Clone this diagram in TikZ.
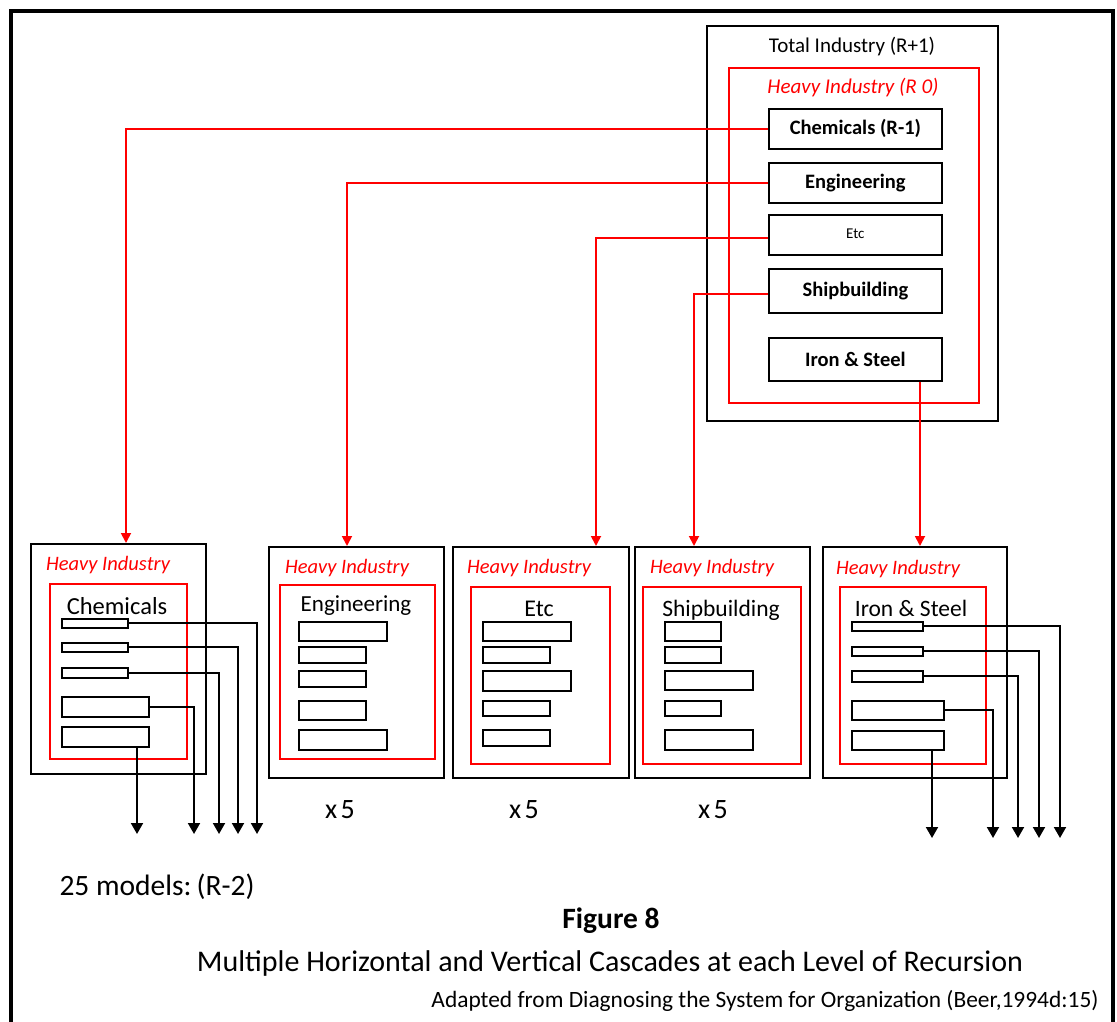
\documentclass[tikz,border=0pt]{standalone}
\usepackage{fontspec}
\setmainfont{Carlito}
\usetikzlibrary{arrows.meta}
\begin{document}
\begin{tikzpicture}[x=1pt,y=-1pt,
  box/.style={draw=black, line width=1.8pt, inner sep=0pt, anchor=north west},
  rbox/.style={draw=red, line width=1.8pt, inner sep=0pt, anchor=north west},
  fz/.style={font=\fontsize{#1}{#1}\selectfont},
  bz/.style={font=\fontsize{#1}{#1}\selectfont\bfseries},
  iz/.style={font=\fontsize{#1}{#1}\selectfont\itshape, text=red},
  redcon/.style={draw=red, line width=1.8pt, -{Triangle[width=10pt,length=10pt]}},
  blkcon/.style={draw=black, line width=1.9pt, -{Triangle[width=12pt,length=11pt]}}
]
\useasboundingbox (0,0) rectangle (1117,1022);
% outer frame (bottom edge lies outside the picture)
\draw[line width=3.5pt] (11,1040) -- (11,11) -- (1113,11) -- (1113,1040);

% ---------- top: Total Industry ----------
\node[box, minimum width=291pt, minimum height=395pt] (total) at (706,25) {};
\node[fz=21] (totallbl) at (852,47) {Total Industry (R+1)};
\node[rbox, minimum width=250pt, minimum height=335pt] (heavy) at (728,67) {};
\node[iz=21] (heavylbl) at (853,88) {Heavy Industry (R 0)};
\node[box, minimum width=173pt, minimum height=40pt, bz=20.5] (chem) at (768,108) {Chemicals (R-1)};
\node[box, minimum width=173pt, minimum height=40pt, bz=20.5] (eng) at (768,162) {Engineering};
\node[box, minimum width=173pt, minimum height=40pt, fz=15] (etc) at (768,214) {\raisebox{3pt}{Etc}};
\node[box, minimum width=173pt, minimum height=44pt, bz=20.5] (ship) at (768,268) {Shipbuilding};
\node[box, minimum width=173pt, minimum height=43pt, bz=20.5] (iron) at (768,337) {Iron \& Steel};

% ---------- box 1: Chemicals ----------
\node[box, minimum width=175pt, minimum height=230pt] (b1) at (30,543) {};
\node[rbox, minimum width=137pt, minimum height=175pt] (b1r) at (49,583) {};
\node[iz=20.5] (b1h) at (108,565) {Heavy Industry};
\node[fz=24.5] (b1n) at (117,606) {Chemicals};
\node[box, minimum width=66pt, minimum height=9pt] (r11) at (61,618) {};
\node[box, minimum width=66pt, minimum height=9pt] (r12) at (61,642) {};
\node[box, minimum width=66pt, minimum height=10pt] (r13) at (61,667) {};
\node[box, minimum width=87pt, minimum height=20pt] (r14) at (61,696) {};
\node[box, minimum width=87pt, minimum height=20pt] (r15) at (61,726) {};

% ---------- box 2: Engineering ----------
\node[box, minimum width=175pt, minimum height=231pt] (b2) at (268,546) {};
\node[rbox, minimum width=155pt, minimum height=174pt] (b2r) at (279,584) {};
\node[iz=20.5] (b2h) at (347,568) {Heavy Industry};
\node[fz=23] (b2n) at (356,606) {Engineering};
\node[box, minimum width=88pt, minimum height=19pt] (r21) at (298,621) {};
\node[box, minimum width=67pt, minimum height=16pt] (r22) at (298,646) {};
\node[box, minimum width=67pt, minimum height=16pt] (r23) at (298,670) {};
\node[box, minimum width=67pt, minimum height=19pt] (r24) at (298,700) {};
\node[box, minimum width=88pt, minimum height=20pt] (r25) at (298,729) {};

% ---------- box 3: Etc ----------
\node[box, minimum width=176pt, minimum height=231pt] (b3) at (452,546) {};
\node[rbox, minimum width=139pt, minimum height=177pt] (b3r) at (470,586) {};
\node[iz=20.5] (b3h) at (529,568) {Heavy Industry};
\node[fz=24] (b3n) at (539,609) {Etc};
\node[box, minimum width=88pt, minimum height=19pt] (r31) at (482,621) {};
\node[box, minimum width=67pt, minimum height=16pt] (r32) at (482,646) {};
\node[box, minimum width=88pt, minimum height=20pt] (r33) at (482,670) {};
\node[box, minimum width=67pt, minimum height=15pt] (r34) at (482,700) {};
\node[box, minimum width=67pt, minimum height=16pt] (r35) at (482,729) {};

% ---------- box 4: Shipbuilding ----------
\node[box, minimum width=175pt, minimum height=231pt] (b4) at (634,546) {};
\node[rbox, minimum width=158pt, minimum height=177pt] (b4r) at (642,586) {};
\node[iz=20.5] (b4h) at (712,568) {Heavy Industry};
\node[fz=23.5] (b4n) at (721,610) {Shipbuilding};
\node[box, minimum width=56pt, minimum height=19pt] (r41) at (664,621) {};
\node[box, minimum width=56pt, minimum height=16pt] (r42) at (664,646) {};
\node[box, minimum width=88pt, minimum height=19pt] (r43) at (664,670) {};
\node[box, minimum width=56pt, minimum height=15pt] (r44) at (664,700) {};
\node[box, minimum width=88pt, minimum height=20pt] (r45) at (664,729) {};

% ---------- box 5: Iron & Steel ----------
\node[box, minimum width=184pt, minimum height=231pt] (b5) at (822,546) {};
\node[rbox, minimum width=146pt, minimum height=177pt] (b5r) at (839,586) {};
\node[iz=20.5] (b5h) at (898,569) {Heavy Industry};
\node[fz=23.5] (b5n) at (911,608) {Iron \& Steel};
\node[box, minimum width=71pt, minimum height=9pt] (r51) at (851,621) {};
\node[box, minimum width=71pt, minimum height=9pt] (r52) at (851,646) {};
\node[box, minimum width=71pt, minimum height=11pt] (r53) at (851,670) {};
\node[box, minimum width=92pt, minimum height=19pt] (r54) at (851,700) {};
\node[box, minimum width=92pt, minimum height=19pt] (r55) at (851,730) {};

% ---------- red cascade connectors ----------
\coordinate (t1) at (126,543);
\coordinate (t2) at (347,546);
\coordinate (t3) at (596,546);
\coordinate (t4) at (694,546);
\coordinate (t5) at (920,546);
\draw[redcon] (chem.west) -| (t1);
\draw[redcon] (eng.west) -| (t2);
\draw[redcon] ([yshift=-3pt]etc.west) -| (t3);
\draw[redcon] ([yshift=-3pt]ship.west) -| (t4);
\draw[redcon] (iron.south -| t5) -- (t5);

% ---------- black connectors, box 1 ----------
\coordinate (e11) at (257,834);
\coordinate (e12) at (238,834);
\coordinate (e13) at (219,834);
\coordinate (e14) at (194,834);
\coordinate (e15) at (137,834);
\draw[blkcon] (r11.east) -| (e11);
\draw[blkcon] (r12.east) -| (e12);
\draw[blkcon] (r13.east) -| (e13);
\draw[blkcon] (r14.east) -| (e14);
\draw[blkcon] (r15.south -| e15) -- (e15);

% ---------- black connectors, box 5 ----------
\coordinate (e51) at (1060,838);
\coordinate (e52) at (1039,838);
\coordinate (e53) at (1018,838);
\coordinate (e54) at (993,838);
\coordinate (e55) at (932,838);
\draw[blkcon] (r51.east) -| (e51);
\draw[blkcon] (r52.east) -| (e52);
\draw[blkcon] (r53.east) -| (e53);
\draw[blkcon] (r54.east) -| (e54);
\draw[blkcon] (r55.south -| e55) -- (e55);

% ---------- labels ----------
\node[fz=28] (x2) at (340,810) {x\hspace{3.5pt}5};
\node[fz=28] (x3) at (524,810) {x\hspace{3.5pt}5};
\node[fz=28] (x4) at (713,810) {x\hspace{3.5pt}5};
\node[fz=29.5, anchor=west] (models) at (56,887) {25 models:\hspace{5pt}(R-2)};
\node[bz=29.5] (fig) at (611,921) {Figure 8};
\node[fz=30] (title) at (610,963) {Multiple Horizontal and Vertical Cascades at each Level of Recursion};
\node[fz=23.4, anchor=east] (src) at (1102,1001) {Adapted from Diagnosing the System for Organization (Beer,1994d:15)};
\end{tikzpicture}
\end{document}
